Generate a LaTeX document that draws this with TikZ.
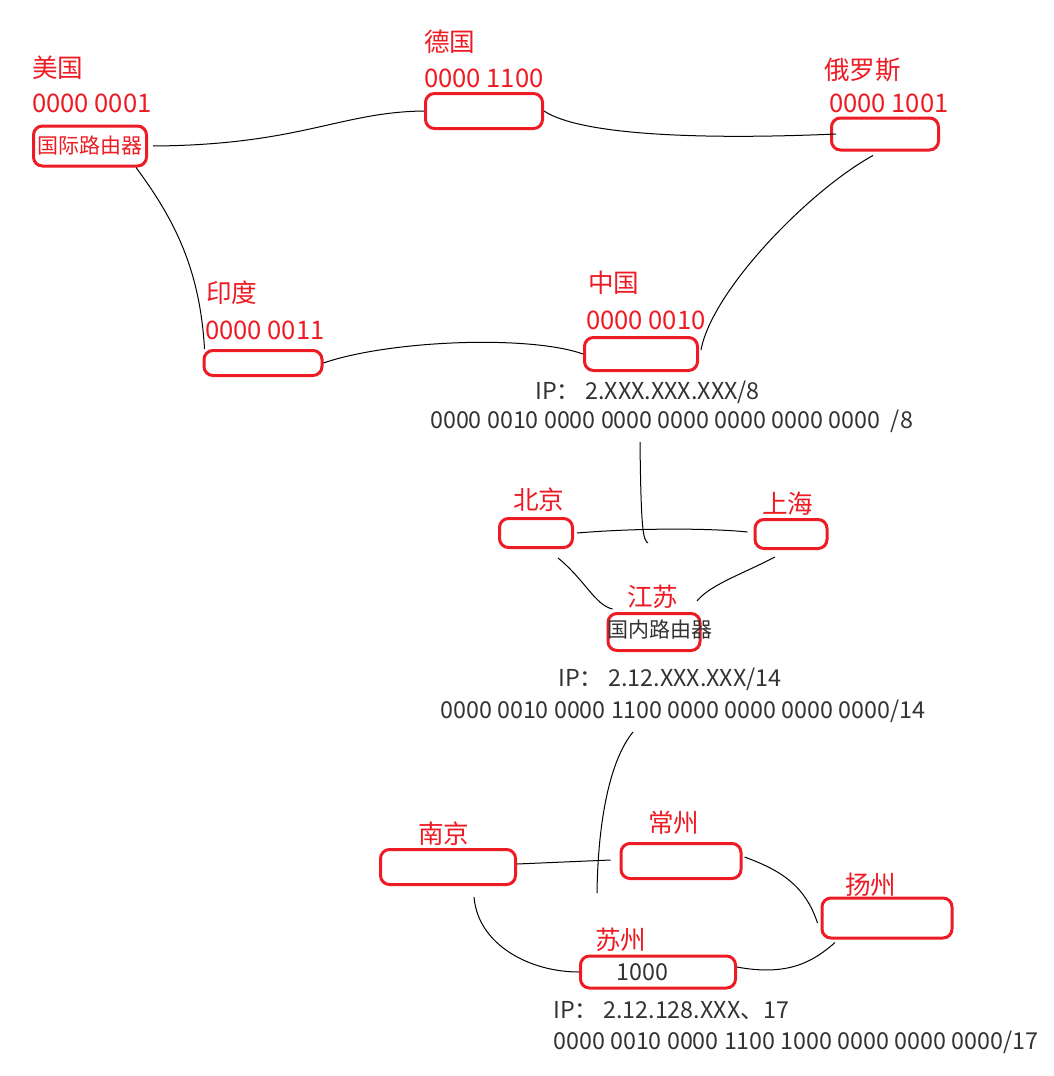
\documentclass[tikz,border=0pt]{standalone}
\usepackage{fontspec}
\setmainfont{Noto Sans CJK SC}
\usetikzlibrary{shapes}
\definecolor{paintred}{HTML}{ED1C24}
\definecolor{inkgray}{HTML}{333333}
\tikzstyle{router} = [
        rectangle, draw=paintred, line width=3pt,
        rounded corners=9pt, inner sep=0pt,
        text=paintred, font=\fontsize{21}{21}\selectfont
    ]
\tikzstyle{tag} = [text=paintred, anchor=west, inner sep=0pt,
        font=\fontsize{25.6}{25.6}\selectfont]
\tikzstyle{info} = [text=inkgray, anchor=west, inner sep=0pt,
        font=\fontsize{23.3}{23.3}\selectfont]
\tikzstyle{line} = [draw, line width=1pt]

\begin{document}
\begin{tikzpicture}[x=1pt, y=-1pt]
    \useasboundingbox (0,0) rectangle (1054,1076);

    % countries
    \node [router, minimum width=113pt, minimum height=40pt] (usa) at (90,146) {国际路由器};
    \node [router, minimum width=117pt, minimum height=35pt] (ger) at (484,111) {};
    \node [router, minimum width=107pt, minimum height=32pt] (rus) at (885,134) {};
    \node [router, minimum width=118pt, minimum height=25pt] (ind) at (263,363) {};
    \node [router, minimum width=113pt, minimum height=33pt] (chn) at (641,354) {};

    \node [tag] (usaname) at (32,68) {美国};
    \node [tag] (usaid) at (32,103) {0000 0001};
    \node [tag] (gername) at (424,42) {德国};
    \node [tag] (gerid) at (424,78) {0000 1100};
    \node [tag] (rusname) at (824,70) {俄罗斯};
    \node [tag] (rusid) at (829,103) {0000 1001};
    \node [tag] (indname) at (206,293) {印度};
    \node [tag] (indid) at (205,330) {0000 0011};
    \node [tag] (chnname) at (588,283) {中国};
    \node [tag] (chnid) at (586,320) {0000 0010};
    \node [info] (chnip) at (535,392) {IP： 2.XXX.XXX.XXX/8};
    \node [info] (chnbin) at (430,421) {0000 0010 0000 0000 0000 0000 0000 0000\ \ /8};

    % provinces
    \node [router, minimum width=73pt, minimum height=29pt] (bj) at (536,533) {};
    \node [router, minimum width=72pt, minimum height=29pt] (sh) at (791,534) {};
    \node [router, minimum width=92pt, minimum height=37pt] (js) at (654,632) {};

    \node [tag] (bjname) at (513,500) {北京};
    \node [tag] (shname) at (762,504) {上海};
    \node [tag] (jsname) at (627,597) {江苏};
    \node [info, font=\fontsize{21}{21}\selectfont] (jsrouter) at (607,630) {国内路由器};
    \node [info] (jsip) at (558,679) {IP： 2.12.XXX.XXX/14};
    \node [info] (jsbin) at (440,711) {0000 0010 0000 1100 0000 0000 0000 0000/14};

    % cities
    \node [router, minimum width=135pt, minimum height=35pt] (nj) at (448,867) {};
    \node [router, minimum width=120pt, minimum height=35pt] (cz) at (681,861) {};
    \node [router, minimum width=130pt, minimum height=40pt] (yz) at (887,918) {};
    \node [router, minimum width=155pt, minimum height=32pt] (sz) at (658,972) {};

    \node [tag] (njname) at (418,834) {南京};
    \node [tag] (czname) at (648,823) {常州};
    \node [tag] (yzname) at (845,885) {扬州};
    \node [tag] (szname) at (595,940) {苏州};
    \node [info] (szid) at (616,972) {1000};
    \node [info] (szip) at (553,1011) {IP： 2.12.128.XXX、17};
    \node [info] (szbin) at (553,1042) {0000 0010 0000 1100 1000 0000 0000 0000/17};

    \coordinate (chndown) at (640,442);
    \coordinate (chnend) at (648,543);
    \coordinate (jsdown) at (633,732);
    \coordinate (jsend) at (597,893);

    % links between countries
    \path [line] ([xshift=5pt]usa.east) .. controls (300,145) and (340,112) .. (ger.west);
    \path [line] (ger.east) .. controls (580,135) and (700,140) .. ([xshift=6pt]rus.west);
    \path [line] ([xshift=-12pt]usa.south east) .. controls (175,220) and (200,270) .. ([xshift=2pt]ind.north west);
    \path [line] (ind.east) .. controls (390,340) and (530,335) .. (chn.west);
    \path [line] ([xshift=-12pt,yshift=-4pt]rus.south) .. controls (810,190) and (712,290) .. ([xshift=2pt,yshift=4pt]chn.east);

    % links between provinces
    \path [line] (chndown) .. controls (641,530) and (643,540) .. (chnend);
    \path [line] ([xshift=3pt]bj.east) .. controls (650,527) and (720,529) .. ([xshift=-6pt,yshift=2pt]sh.west);
    \path [line] ([xshift=22pt,yshift=-9pt]bj.south) .. controls (585,580) and (595,605) .. ([xshift=6pt,yshift=3pt]js.north west);
    \path [line] ([xshift=-16pt,yshift=-7pt]sh.south) .. controls (740,575) and (710,585) .. ([xshift=43pt,yshift=11pt]js.north);

    % links between cities
    \path [line] (jsdown) .. controls (610,760) and (598,820) .. (jsend);
    \path [line] ([yshift=3pt]nj.east) -- ([xshift=-9pt,yshift=1pt]cz.west);
    \path [line] ([xshift=2pt,yshift=4pt]cz.east) .. controls (780,870) and (805,885) .. ([xshift=-3pt,yshift=-5pt]yz.west);
    \path [line] ([xshift=26pt,yshift=-11pt]nj.south) .. controls (478,945) and (530,972) .. (sz.west);
    \path [line] ([yshift=5pt]sz.east) .. controls (790,977) and (815,960) .. ([xshift=-52pt,yshift=-3pt]yz.south);
\end{tikzpicture}
\end{document}
